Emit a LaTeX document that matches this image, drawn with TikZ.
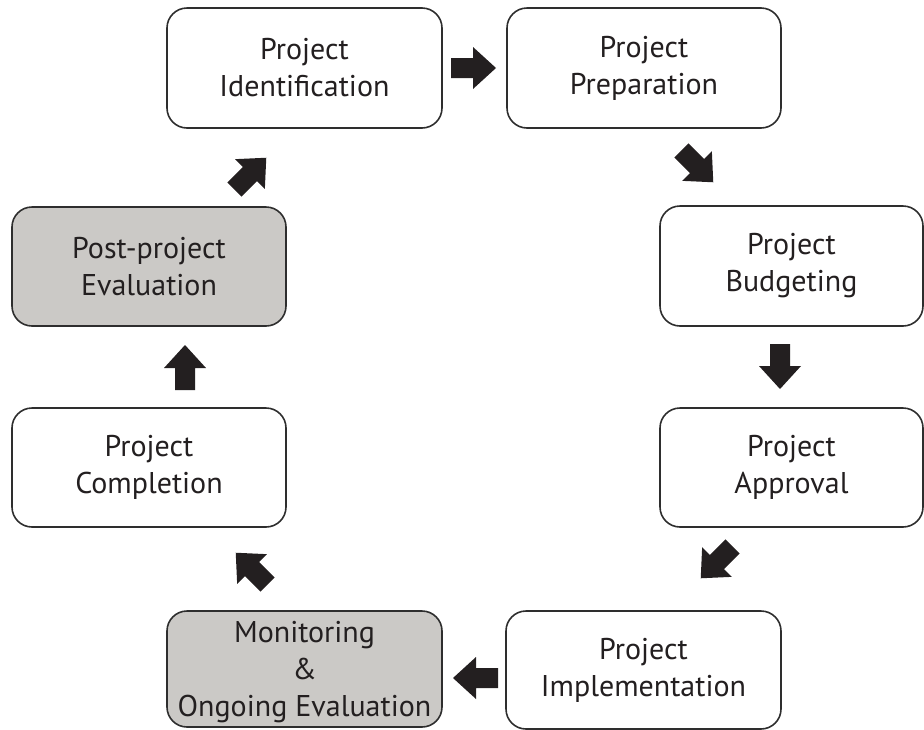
\documentclass[tikz,border=0pt]{standalone}
\usepackage{fontspec}
\setmainfont{PT Sans}
\definecolor{boxline}{HTML}{2E2E2E}
\definecolor{txt}{HTML}{231F20}
\definecolor{shade}{HTML}{CBC9C6}
\definecolor{arrowcol}{HTML}{231F20}
\tikzset{
  stagebox/.style={draw=boxline, line width=1.6pt, rounded corners=20pt, fill=white,
    align=center, text=txt, inner sep=0pt,
    font=\fontsize{30}{37}\selectfont},
  shadedbox/.style={stagebox, fill=shade},
  pics/fatarrow/.style={code={
    \fill[arrowcol] (-22,-10) -- (0,-10) -- (0,-21) -- (23,0) -- (0,21) -- (0,10) -- (-22,10) -- cycle;}}
}
\begin{document}
\begin{tikzpicture}[x=1pt,y=-1pt]
\useasboundingbox (0,0) rectangle (924,729);
\node[stagebox, minimum width=275pt, minimum height=120pt] (ident) at (304.5,68) {Project\\Identification};
\node[stagebox, minimum width=274pt, minimum height=120pt] (prep) at (644,68) {Project\\Preparation};
\node[stagebox, minimum width=263pt, minimum height=120pt] (budg) at (791.5,266) {Project\\Budgeting};
\node[stagebox, minimum width=263pt, minimum height=119pt] (appr) at (791.5,467.5) {Project\\Approval};
\node[stagebox, minimum width=275pt, minimum height=118pt] (impl) at (643.5,670) {Project\\Implementation};
\node[shadedbox, minimum width=275pt, minimum height=116pt] (moni) at (304.5,669) {};
\node[align=center, text=txt, inner sep=0pt, font=\fontsize{30}{37}\selectfont] (monitxt) at (304.5,672) {Monitoring\\\&\\Ongoing Evaluation};
\node[stagebox, minimum width=274pt, minimum height=119pt] (comp) at (149,467.5) {Project\\Completion};
\node[shadedbox, minimum width=274pt, minimum height=119pt] (post) at (149,266.5) {Post-project\\Evaluation};
% arrow positions
\coordinate (a1) at (473,68);
\coordinate (a2) at (697,166);
\coordinate (a3) at (780,366);
\coordinate (a4) at (717,562);
\coordinate (a5) at (476,678);
\coordinate (a6) at (252,569);
\coordinate (a7) at (185,368);
\coordinate (a8) at (250,174);
\pic[rotate=0] at (a1) {fatarrow};
\pic[rotate=-45] at (a2) {fatarrow};
\pic[rotate=-90] at (a3) {fatarrow};
\pic[rotate=-135] at (a4) {fatarrow};
\pic[rotate=180] at (a5) {fatarrow};
\pic[rotate=135] at (a6) {fatarrow};
\pic[rotate=90] at (a7) {fatarrow};
\pic[rotate=45] at (a8) {fatarrow};
\end{tikzpicture}
\end{document}
